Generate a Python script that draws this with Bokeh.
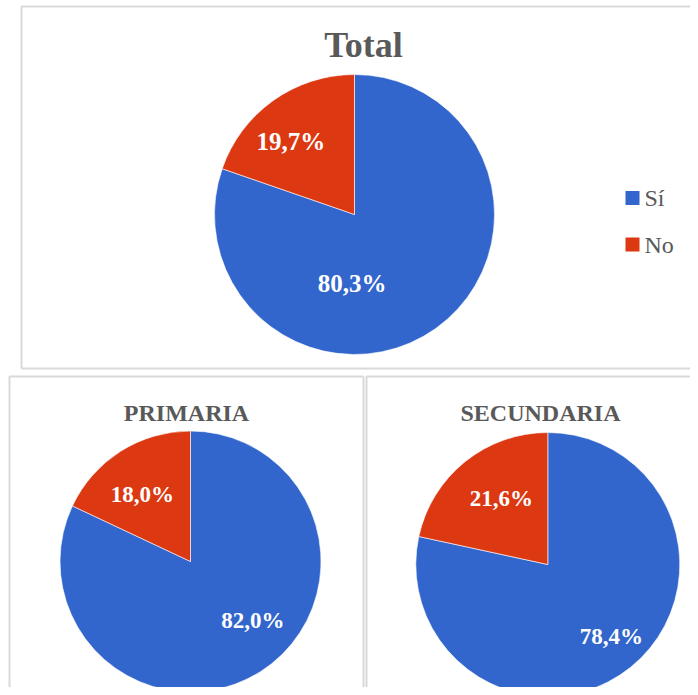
import math
from bokeh.plotting import figure
from bokeh.models import Range1d
from bokeh.core.properties import value
from bokeh.embed import file_html
from bokeh.resources import INLINE

# ---------------- data ----------------
categories = ["Sí", "No"]
colors = ["#3366cc", "#dc3912"]
panel_titles = ["Total", "PRIMARIA", "SECUNDARIA"]
total_values = [80.3, 19.7]
primaria_values = [82.0, 18.0]
secundaria_values = [78.4, 21.6]

# ---------------- layout (pixels of the picture) ----------------
W, H = 690, 687
OX, OY = 0, 0

FONT = "Liberation Serif"
GRAY = "#595959"
BORDER = "#d9d9d9"

p = figure(width=W, height=H, output_backend="svg", toolbar_location=None,
           x_range=Range1d(OX, OX + W), y_range=Range1d(-(OY + H), -OY),
           min_border=0)
p.axis.visible = False
p.grid.visible = False
p.outline_line_color = None
p.background_fill_color = "white"
p.border_fill_color = "white"

# panel frames: (left, top, right, bottom)
frames = [(21, 6, 720, 368), (9, 376, 363, 720), (366, 376, 720, 720)]
for (l, t, r, b) in frames:
    p.line([l, l, r], [-b, -t, -t], line_color=BORDER, line_width=2)
    if b < 700:
        p.line([l, r], [-b, -b], line_color=BORDER, line_width=2)
    if r < 700:
        p.line([r, r], [-t, -b], line_color=BORDER, line_width=2)

panels = [
    dict(values=total_values, title=panel_titles[0], cx=354, cy=214, r=140,
         tx=363, ty=44, tsize=36, lsize=25,
         lab=[(-91.9, 0.49), (131.2, 0.69)]),
    dict(values=primaria_values, title=panel_titles[1], cx=190, cy=561, r=130.5,
         tx=186, ty=412, tsize=24, lsize=23,
         lab=[(-43.2, 0.655), (125.9, 0.63)]),
    dict(values=secundaria_values, title=panel_titles[2], cx=547.3, cy=564, r=132,
         tx=540, ty=412, tsize=24, lsize=23,
         lab=[(-48.7, 0.73), (125.3, 0.61)]),
]

for pn in panels:
    vals = pn["values"]
    tot = sum(vals)
    # first slice starts at 12 o'clock and goes clockwise
    start = math.pi / 2
    starts, ends = [], []
    for v in vals:
        sweep = 2 * math.pi * v / tot
        starts.append(start - sweep)
        ends.append(start)
        start -= sweep
    p.wedge(x=[pn["cx"]] * len(vals), y=[-pn["cy"]] * len(vals), radius=pn["r"],
            start_angle=starts, end_angle=ends, direction="anticlock",
            fill_color=colors, line_color="white", line_width=0.6)
    lx, ly, lt = [], [], []
    for v, (ang, fr) in zip(vals, pn["lab"]):
        a = math.radians(ang)
        lx.append(pn["cx"] + fr * pn["r"] * math.cos(a))
        ly.append(-pn["cy"] + fr * pn["r"] * math.sin(a))
        lt.append(f"{v:.1f}%".replace(".", ","))
    p.text(x=lx, y=ly, text=lt, text_color="white", text_font=value(FONT),
           text_font_style="bold", text_font_size=f"{pn['lsize']}px",
           text_align="center", text_baseline="middle")
    p.text(x=[pn["tx"]], y=[-pn["ty"]], text=[pn["title"]], text_color=GRAY,
           text_font=value(FONT), text_font_style="bold",
           text_font_size=f"{pn['tsize']}px", text_align="center",
           text_baseline="middle")

# legend (top panel)
leg_x, leg_y0, leg_dy = 632, 197.5, 46.5
ly = [-(leg_y0 + i * leg_dy) for i in range(len(categories))]
p.rect(x=[leg_x] * len(categories), y=ly, width=14, height=14,
       fill_color=colors, line_color=None)
p.text(x=[leg_x + 12] * len(categories), y=ly, text=categories, text_color=GRAY,
       text_font=value(FONT), text_font_size="24px", text_align="left",
       text_baseline="middle")

open("out.html", "w").write(file_html(p, INLINE))
